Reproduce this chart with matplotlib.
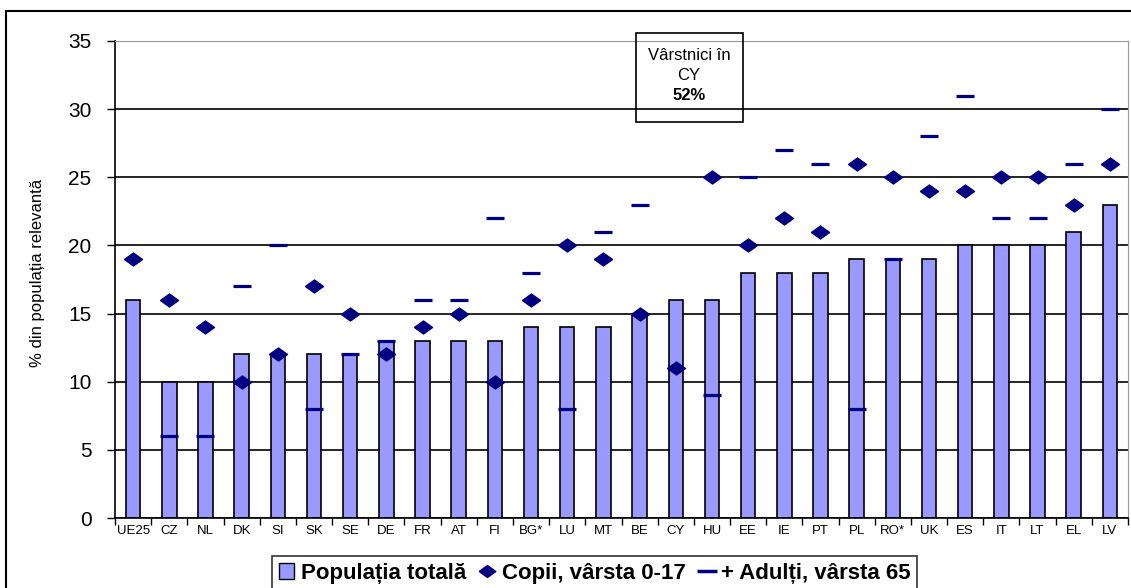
import numpy as np
import matplotlib
matplotlib.use('Agg')
import matplotlib.pyplot as plt
from matplotlib.patches import Rectangle
from matplotlib.lines import Line2D
from matplotlib.patches import Patch

plt.rcParams['font.family'] = ['Liberation Sans', 'DejaVu Sans']

# data
countries = ['UE25', 'CZ', 'NL', 'DK', 'SI', 'SK', 'SE', 'DE', 'FR', 'AT', 'FI', 'BG*', 'LU', 'MT',
             'BE', 'CY', 'HU', 'EE', 'IE', 'PT', 'PL', 'RO*', 'UK', 'ES', 'IT', 'LT', 'EL', 'LV']
total = [16, 10, 10, 12, 12, 12, 12, 13, 13, 13, 13, 14, 14, 14,
         15, 16, 16, 18, 18, 18, 19, 19, 19, 20, 20, 20, 21, 23]
children = [19, 16, 14, 10, 12, 17, 15, 12, 14, 15, 10, 16, 20, 19,
            15, 11, 25, 20, 22, 21, 26, 25, 24, 24, 25, 25, 23, 26]
elderly = [np.nan, 6, 6, 17, 20, 8, 12, 13, 16, 16, 22, 18, 8, 21,
           23, 52, 9, 25, 27, 26, 8, 19, 28, 31, 22, 22, 26, 30]

W, H = 1131, 588
fig = plt.figure(figsize=(W / 100, H / 100), dpi=100)
ax = fig.add_axes([115 / W, 1 - 518 / H, (1128 - 115) / W, (518 - 41) / H])

x = np.arange(len(countries))
navy = '#000080'
# flat diamond, wider than tall
diamond = [(-1, 0), (0, 0.72), (1, 0), (0, -0.72), (-1, 0)]

ax.bar(x, total, width=0.4, color='#9999FF', edgecolor='black', linewidth=1.2, zorder=2)
ax.plot(x, children, linestyle='none', marker=diamond, markersize=13, color=navy, zorder=3)
ax.plot(x, elderly, linestyle='none', marker='_', markersize=12.5, markeredgewidth=2.3, color=navy, zorder=4)

ax.set_xlim(-0.5, len(countries) - 0.5)
ax.set_ylim(0, 35)
ax.set_yticks(range(0, 36, 5))
ax.yaxis.grid(True, color='black', linewidth=1.2, zorder=0)
ax.set_axisbelow(True)

ax.set_xticks(x)
ax.set_xticklabels(countries, fontsize=9.5)
ax.tick_params(axis='x', length=0, pad=5)
ax.set_xticks(np.arange(-0.5, len(countries), 1), minor=True)
ax.tick_params(axis='x', which='minor', length=5, width=1, direction='out')
ax.tick_params(axis='y', labelsize=15, length=6, width=1, pad=11)

ax.spines['top'].set_color('#999999')
ax.spines['right'].set_color('#999999')
ax.spines['left'].set_linewidth(1.2)
ax.spines['bottom'].set_linewidth(1.2)

fig.text(38 / W, 1 - 273 / H, '% din populația relevantă', rotation=90, fontsize=12,
         ha='center', va='center')

# annotation box for CY elderly
fig.patches.append(Rectangle((636 / W, 1 - 122 / H), 107 / W, 89 / H, transform=fig.transFigure,
                             fill=False, edgecolor='black', linewidth=1.2, zorder=10))
fig.text(689 / W, 1 - 56 / H, 'Vârstnici în', fontsize=12, ha='center', va='center')
fig.text(689 / W, 1 - 75 / H, 'CY', fontsize=12, ha='center', va='center')
fig.text(689 / W, 1 - 96 / H, '52%', fontsize=12, fontweight='bold', ha='center', va='center')

# outer frame
fig.patches.append(Rectangle((6 / W, -0.05), 1.1, 1.05 - 11 / H, transform=fig.transFigure,
                             fill=False, edgecolor='black', linewidth=1.5, zorder=10))

handles = [
    Patch(facecolor='#9999FF', edgecolor='black', linewidth=1),
    Line2D([], [], linestyle='none', marker=diamond, markersize=12, color=navy),
    Line2D([], [], linestyle='none', marker='_', markersize=14, markeredgewidth=2.5, color=navy),
]
labels = ['Populația totală', 'Copii, vârsta 0-17', '+ Adulți, vârsta 65']
leg = fig.legend(handles, labels, loc='upper left', bbox_to_anchor=(272 / W, 1 - 556 / H),
                 ncol=3, frameon=True, fancybox=False, prop={'weight': 'bold', 'size': 16},
                 handlelength=0.7, handleheight=0.7, handletextpad=0.3, columnspacing=0.6,
                 borderpad=0.3, borderaxespad=0)
leg.get_frame().set_edgecolor('black')
leg.get_frame().set_linewidth(1.2)

fig.savefig('out.png', dpi=100)
